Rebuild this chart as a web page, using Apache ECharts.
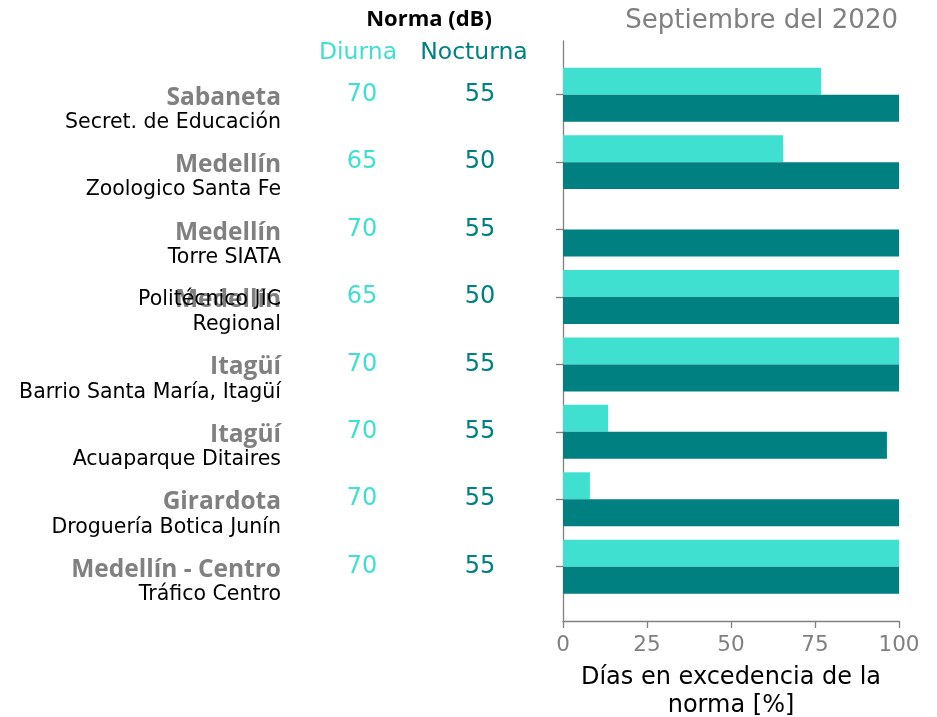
<!DOCTYPE html>
<html>
<head>
<meta charset="utf-8">
<script src="https://cdn.jsdelivr.net/npm/echarts@6/dist/echarts.min.js"></script>
<style>
  html, body { margin: 0; padding: 0; background: #fff; }
  #chart { width: 937px; height: 717px; }
</style>
</head>
<body>
<div id="chart"></div>
<script>
const cities = ['Sabaneta', 'Medellín', 'Medellín', 'Medellín', 'Itagüí', 'Itagüí', 'Girardota', 'Medellín - Centro']
const stations = [
  'Secret. de Educación',
  'Zoologico Santa Fe',
  'Torre SIATA',
  'Politécnico JIC\nRegional',
  'Barrio Santa María, Itagüí',
  'Acuaparque Ditaires',
  'Droguería Botica Junín',
  'Tráfico Centro'
]
const normaDiurna = [70, 65, 70, 65, 70, 70, 70, 70]
const normaNocturna = [55, 50, 55, 50, 55, 55, 55, 55]
const excedenciaDiurna = [76.8, 65.5, 0, 100, 100, 13.4, 8, 100]
const excedenciaNocturna = [100, 100, 100, 100, 100, 96.4, 100, 100]
const xTicks = [0, 25, 50, 75, 100]

const TURQ = '#40e0d0'
const TEAL = '#008080'
const GRAY = '#808080'
const SANS = 'DejaVu Sans'
const CITY_FONT = 'Open Sans'

const chart = echarts.init(document.getElementById('chart'))

const plotLeft = 563
const plotRight = 38
const bandTop = 61
const bandHeight = 539.4

// station text: last line sits one row below the tick, a spacer line nudges it down
function stationLabel(value, index) {
  const lines = stations[index].split('\n')
  while (lines.length < 2) lines.unshift(' ')
  return ['{t| }', ...lines.map((l) => '{s|' + l + '}')].join('\n')
}

function cityLabel(value, index) {
  return '{t| }\n{c|' + cities[index] + '}'
}

function categoryAxis(extra) {
  const axis = Object.assign({
    type: 'category',
    gridIndex: 0,
    position: 'left',
    inverse: true,
    data: stations,
    axisLine: { show: false },
    axisTick: { show: false },
    splitLine: { show: false }
  }, extra)
  Object.assign(axis.axisLabel, { interval: 0, showMinLabel: true, showMaxLabel: true, hideOverlap: false })
  return axis
}

chart.setOption({
  animation: false,
  backgroundColor: '#fff',
  title: [
    {
      text: 'Norma (dB)', left: 429, top: 20, padding: 0,
      textAlign: 'center', textVerticalAlign: 'middle',
      textStyle: { fontFamily: CITY_FONT, fontSize: 22, fontWeight: 'bold', color: '#000' }
    },
    {
      text: 'Diurna', left: 358, top: 53, padding: 0,
      textAlign: 'center', textVerticalAlign: 'middle',
      textStyle: { fontFamily: SANS, fontSize: 23.5, fontWeight: 'normal', color: TURQ }
    },
    {
      text: 'Nocturna', left: 474, top: 53, padding: 0,
      textAlign: 'center', textVerticalAlign: 'middle',
      textStyle: { fontFamily: SANS, fontSize: 23.5, fontWeight: 'normal', color: TEAL }
    },
    {
      text: 'Septiembre del 2020', right: 39, top: 21, padding: 0,
      textVerticalAlign: 'middle',
      textStyle: { fontFamily: SANS, fontSize: 26, fontWeight: 'normal', color: GRAY }
    }
  ],
  grid: [
    { left: plotLeft, right: plotRight, top: bandTop, height: bandHeight, outerBoundsMode: 'none' },
    { left: plotLeft, right: plotRight, top: 41, bottom: 717 - 621, outerBoundsMode: 'none' }
  ],
  xAxis: [
    { type: 'value', gridIndex: 0, min: 0, max: 100, show: false },
    {
      type: 'value', gridIndex: 1, min: 0, max: 100, interval: 25,
      axisLine: { show: true, lineStyle: { color: GRAY, width: 1.3 } },
      axisTick: { show: true, length: 7, lineStyle: { color: GRAY, width: 1.3 } },
      axisLabel: {
        color: GRAY, fontFamily: SANS, fontSize: 21.5, margin: 13,
        formatter: (v) => xTicks.includes(v) ? String(v) : ''
      },
      splitLine: { show: false },
      name: 'Días en excedencia de la\nnorma [%]',
      nameLocation: 'middle',
      nameGap: 43,
      nameTextStyle: { color: '#000', fontFamily: SANS, fontSize: 24, lineHeight: 28, verticalAlign: 'top' }
    }
  ],
  yAxis: [
    categoryAxis({
      axisTick: { show: true, alignWithLabel: true, length: 7, lineStyle: { color: GRAY, width: 1.3 } },
      axisLabel: {
        margin: 282,
        formatter: cityLabel,
        rich: {
          t: { fontSize: 4, lineHeight: 6 },
          c: { color: GRAY, fontFamily: CITY_FONT, fontSize: 24.5, fontWeight: 'bold', lineHeight: 30 }
        }
      }
    }),
    categoryAxis({
      axisLabel: {
        margin: 282,
        formatter: stationLabel,
        rich: {
          t: { fontSize: 4, lineHeight: 31 },
          s: { color: '#000', fontFamily: SANS, fontSize: 20.5, lineHeight: 25 }
        }
      }
    }),
    categoryAxis({
      axisLabel: {
        margin: 201, align: 'center', color: TURQ, fontFamily: SANS, fontSize: 24,
        formatter: (v, i) => String(normaDiurna[i])
      }
    }),
    categoryAxis({
      axisLabel: {
        margin: 83, align: 'center', color: TEAL, fontFamily: SANS, fontSize: 24,
        formatter: (v, i) => String(normaNocturna[i])
      }
    }),
    {
      type: 'value', gridIndex: 1, min: 0, max: 1,
      axisLine: { show: true, lineStyle: { color: GRAY, width: 1.3 } },
      axisTick: { show: false },
      axisLabel: { show: false },
      splitLine: { show: false }
    }
  ],
  series: [
    {
      name: 'Diurna', type: 'bar', xAxisIndex: 0, yAxisIndex: 0,
      data: excedenciaDiurna, barGap: '0%', barCategoryGap: '20%',
      itemStyle: { color: TURQ }
    },
    {
      name: 'Nocturna', type: 'bar', xAxisIndex: 0, yAxisIndex: 0,
      data: excedenciaNocturna, barGap: '0%', barCategoryGap: '20%',
      itemStyle: { color: TEAL }
    }
  ]
})
</script>
</body>
</html>
